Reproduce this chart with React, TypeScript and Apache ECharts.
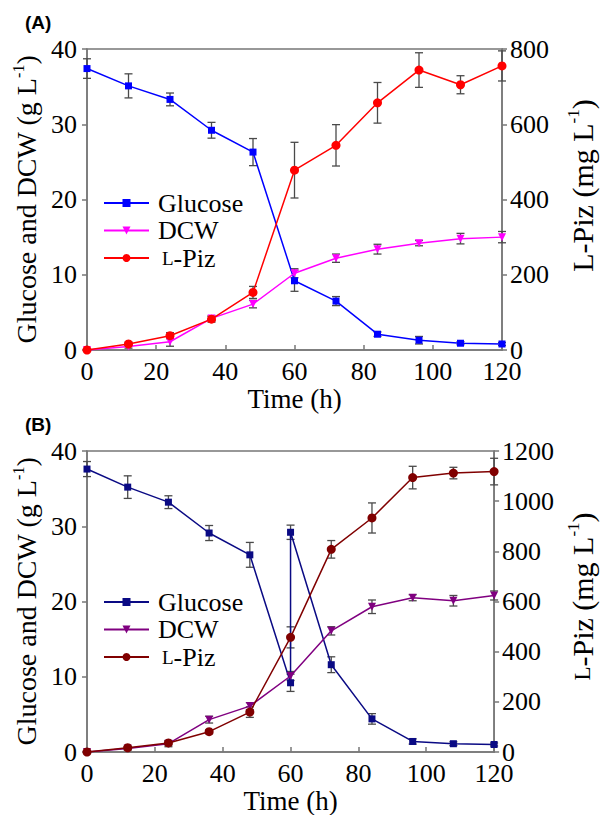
import React, { useEffect, useRef } from 'react';
import * as echarts from 'echarts';

// ---- data ----
const times = [0, 12, 24, 36, 48, 60, 72, 84, 96, 108, 120];
const xTicks = [0, 20, 40, 60, 80, 100, 120];

// Panel A
const glucoseA = [37.4, 35.1, 33.3, 29.2, 26.3, 9.2, 6.5, 2.1, 1.3, 0.9, 0.8];
const glucoseAErr = [1.3, 1.6, 0.85, 1.05, 1.8, 1.4, 0.6, 0.3, 0.5, 0.2, 0.2];
const dcwA = [0, 0.45, 1.1, 4.2, 6.1, 10.2, 12.2, 13.4, 14.2, 14.8, 15.0];
const dcwAErr = [0, 0.2, 0.6, 0.3, 0.5, 0.6, 0.55, 0.65, 0.35, 0.7, 0.75];
const pizA = [0, 16, 38, 82, 153, 478, 544, 657, 744, 705, 755];
const pizAErr = [0, 5, 8, 8, 16, 74, 55, 54, 46, 24, 40];

// Panel B
const glucoseBTimes = [0, 12, 24, 36, 48, 60, 60, 72, 84, 96, 108, 120];
const glucoseB = [37.6, 35.2, 33.2, 29.1, 26.2, 9.2, 29.2, 11.6, 4.4, 1.4, 1.1, 1.0];
const glucoseBErr = [1.0, 1.5, 0.85, 1.0, 1.65, 1.15, 0.95, 1.05, 0.7, 0.35, 0.25, 0.2];
const dcwB = [0, 0.45, 1.1, 4.3, 6.1, 10.1, 16.1, 19.3, 20.5, 20.1, 20.8];
const dcwBErr = [0, 0.2, 0.4, 0.45, 0.45, 0.6, 0.55, 0.9, 0.4, 0.7, 0.6];
const pizB = [0, 17, 36, 81, 159, 457, 808, 933, 1094, 1112, 1118];
const pizBErr = [0, 5, 8, 8, 21, 42, 35, 60, 45, 23, 53];

const leftTicks = [0, 10, 20, 30, 40];
const rightTicksA = [0, 200, 400, 600, 800];
const rightTicksB = [0, 200, 400, 600, 800, 1000, 1200];

const SERIF = 'Liberation Serif, Times New Roman, serif';
const SANS = 'Liberation Sans, Arial, sans-serif';
const AXIS_COLOR = '#777777';
const ERR_COLOR = '#4a4a4a';

const zip = (xs: number[], ys: number[]) => xs.map((x, i) => [x, ys[i]]);
const errData = (xs: number[], ys: number[], es: number[]) =>
  xs.map((x, i) => [x, ys[i] - es[i], ys[i] + es[i]]);

function errRender(params: any, api: any) {
  const x = api.value(0);
  const lo = api.coord([x, api.value(1)]);
  const hi = api.coord([x, api.value(2)]);
  const w = 4;
  const style = { stroke: ERR_COLOR, lineWidth: 1.3 };
  return {
    type: 'group',
    children: [
      { type: 'line', shape: { x1: lo[0], y1: lo[1], x2: hi[0], y2: hi[1] }, style },
      { type: 'line', shape: { x1: lo[0] - w, y1: lo[1], x2: lo[0] + w, y2: lo[1] }, style },
      { type: 'line', shape: { x1: hi[0] - w, y1: hi[1], x2: hi[0] + w, y2: hi[1] }, style },
    ],
  };
}

function errSeries(data: number[][], xi: number, yi: number) {
  return {
    type: 'custom',
    xAxisIndex: xi,
    yAxisIndex: yi,
    renderItem: errRender,
    data,
    encode: { x: 0, y: [1, 2] },
    silent: true,
    clip: false,
    z: 1,
  };
}

function lineSeries(name: string, data: number[][], xi: number, yi: number, color: string, symbol: string, size: number, rotate = 0) {
  return {
    type: 'line',
    name,
    xAxisIndex: xi,
    yAxisIndex: yi,
    data,
    symbol,
    symbolSize: size,
    symbolRotate: rotate,
    showSymbol: true,
    lineStyle: { color, width: 1.5 },
    itemStyle: { color },
    emphasis: { disabled: true },
    silent: true,
    clip: false,
    z: 3,
  };
}

const axisLineStyle = { color: AXIS_COLOR, width: 1.5 };

function xAxisFor(gi: number) {
  return {
    type: 'value',
    gridIndex: gi,
    min: 0,
    max: 120,
    interval: 20,
    axisLine: { show: true, lineStyle: axisLineStyle },
    axisTick: { show: true, inside: true, length: 5, lineStyle: axisLineStyle },
    axisLabel: {
      fontSize: 26, fontFamily: SERIF, color: '#000', margin: 8,
      formatter: (v: number) => (xTicks.includes(v) ? String(v) : ''),
    },
    splitLine: { show: false },
    name: 'Time (h)',
    nameLocation: 'middle',
    nameGap: 35,
    nameTextStyle: { fontSize: 27, fontFamily: SERIF, color: '#000' },
  };
}

function nameRich(big: number) {
  return {
    n: { fontSize: big, fontFamily: SERIF, color: '#000', lineHeight: big + 4 },
    s: { fontSize: Math.round(big * 0.58), fontFamily: SERIF, color: '#000', lineHeight: Math.round(big * 0.64), verticalAlign: 'top' },
    sc: { fontSize: Math.round(big * 0.75), fontFamily: SERIF, color: '#000', lineHeight: big + 4 },
  };
}

function yLeft(gi: number) {
  return {
    type: 'value',
    gridIndex: gi,
    position: 'left',
    min: 0,
    max: 40,
    interval: 10,
    axisLine: { show: true, lineStyle: axisLineStyle },
    axisTick: { show: true, inside: false, length: 5, lineStyle: axisLineStyle },
    axisLabel: {
      fontSize: 26, fontFamily: SERIF, color: '#000', margin: 10,
      formatter: (v: number) => (leftTicks.includes(v) ? String(v) : ''),
    },
    splitLine: { show: false },
    name: '{n|Glucose and DCW (g L}{s|-1}{n|)}',
    nameLocation: 'middle',
    nameRotate: 90,
    nameGap: 44,
    nameTextStyle: { fontSize: 28, fontFamily: SERIF, color: '#000', rich: nameRich(28) },
  };
}

function yRight(gi: number, max: number, ticks: number[], name: string, shift: number) {
  return {
    type: 'value',
    gridIndex: gi,
    position: 'right',
    min: 0,
    max,
    interval: 200,
    axisLine: { show: true, lineStyle: axisLineStyle },
    axisTick: { show: true, inside: false, length: 5, lineStyle: axisLineStyle },
    axisLabel: {
      fontSize: 26, fontFamily: SERIF, color: '#000', margin: 8,
      formatter: (v: number) => (ticks.includes(v) ? String(v) : ''),
    },
    splitLine: { show: false },
    name,
    nameLocation: 'middle',
    nameRotate: 90,
    nameGap: 63,
    nameTextStyle: {
      fontSize: 30, fontFamily: SERIF, color: '#000', rich: nameRich(30),
      padding: [0, 0, 0, shift * 2],
    },
  };
}

function legendFor(names: string[], top: number) {
  return {
    data: names,
    orient: 'vertical',
    left: 103,
    top,
    padding: 0,
    itemWidth: 45,
    itemHeight: 10,
    itemGap: 1.5,
    selectedMode: false,
    textStyle: {
      fontSize: 26, fontFamily: SERIF, color: '#000', padding: [0, 0, 0, 4],
      rich: { sc: { fontSize: 19, fontFamily: SERIF, color: '#000', padding: [0, 0, 0, 4] } },
    },
    formatter: (nm: string) => {
      const base = nm.replace(' (B)', '');
      return base === 'L-Piz' ? '{sc|L}-Piz' : base;
    },
  };
}

const gridBase = { left: 87, width: 420, height: 301, show: true, borderColor: AXIS_COLOR, borderWidth: 1.5, containLabel: false };

const option: any = {
  animation: false,
  backgroundColor: '#ffffff',
  grid: [
    { ...gridBase, top: 49 },
    { ...gridBase, top: 451 },
  ],
  xAxis: [xAxisFor(0), xAxisFor(1)],
  yAxis: [
    yLeft(0),
    yRight(0, 800, rightTicksA, '{n|L-Piz (mg L}{s|-1}{n|)}', 14),
    yLeft(1),
    yRight(1, 1200, rightTicksB, '{sc|L}{n|-Piz (mg L}{s|-1}{n|)}', 5),
  ],
  legend: [
    legendFor(['Glucose', 'DCW', 'L-Piz'], 190),
    legendFor(['Glucose (B)', 'DCW (B)', 'L-Piz (B)'], 589),
  ],
  graphic: [
    { type: 'text', left: 25, top: 13, style: { text: '(A)', fontSize: 19, fontWeight: 'bold', fontFamily: SANS, fill: '#000' } },
    { type: 'text', left: 25, top: 415, style: { text: '(B)', fontSize: 19, fontWeight: 'bold', fontFamily: SANS, fill: '#000' } },
  ],
  series: [
    errSeries(errData(times, glucoseA, glucoseAErr), 0, 0),
    errSeries(errData(times, dcwA, dcwAErr), 0, 0),
    errSeries(errData(times, pizA, pizAErr), 0, 1),
    lineSeries('Glucose', zip(times, glucoseA), 0, 0, '#0000ff', 'rect', 7),
    lineSeries('DCW', zip(times, dcwA), 0, 0, '#ff00ff', 'triangle', 8, 180),
    lineSeries('L-Piz', zip(times, pizA), 0, 1, '#ff0000', 'circle', 9),

    errSeries(errData(glucoseBTimes, glucoseB, glucoseBErr), 1, 2),
    errSeries(errData(times, dcwB, dcwBErr), 1, 2),
    errSeries(errData(times, pizB, pizBErr), 1, 3),
    lineSeries('Glucose (B)', zip(glucoseBTimes, glucoseB), 1, 2, '#0a0a84', 'rect', 7),
    lineSeries('DCW (B)', zip(times, dcwB), 1, 2, '#800080', 'triangle', 8, 180),
    lineSeries('L-Piz (B)', zip(times, pizB), 1, 3, '#800000', 'circle', 9),
  ],
};

export default function App() {
  const ref = useRef<HTMLDivElement>(null);
  useEffect(() => {
    const chart = echarts.init(ref.current!, null, { renderer: 'svg' });
    chart.setOption(option);
    return () => chart.dispose();
  }, []);
  return (
    <div
      ref={ref}
      style={{ position: 'absolute', left: 0, top: 0, width: 605, height: 815, background: '#fff' }}
    />
  );
}
